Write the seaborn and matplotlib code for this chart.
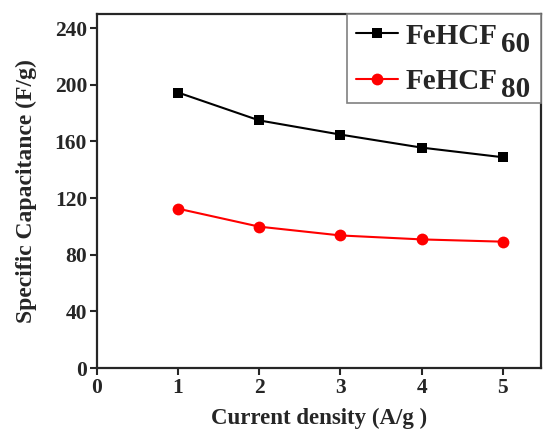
import matplotlib
matplotlib.use('Agg')
import matplotlib.pyplot as plt
import pandas as pd
import seaborn as sns

current = [1, 2, 3, 4, 5]
fehcf60 = [194.5, 174.8, 164.8, 155.6, 148.8]
fehcf80 = [112.5, 99.8, 93.6, 90.8, 89.2]
series = ['FeHCF 60', 'FeHCF 80']
x_ticks = [0, 1, 2, 3, 4, 5]
y_ticks = [0, 40, 80, 120, 160, 200, 240]

df = pd.DataFrame({
    'current': current * 2,
    'cap': fehcf60 + fehcf80,
    'sample': [series[0]] * 5 + [series[1]] * 5,
})

sns.set_style('ticks')
plt.rcParams['font.family'] = ['Liberation Serif', 'DejaVu Serif']
plt.rcParams['font.weight'] = 'bold'
plt.rcParams['axes.labelweight'] = 'bold'

fig = plt.figure(figsize=(5.44, 4.34), dpi=100)
ax = fig.add_axes([0.178, 0.152, 0.8165, 0.816])

sns.lineplot(data=df, x='current', y='cap', hue='sample', style='sample',
             palette={series[0]: 'black', series[1]: 'red'},
             markers={series[0]: 's', series[1]: 'o'},
             dashes=False, markersize=7, linewidth=1.5,
             ax=ax, legend=False)
for l in ax.lines:
    l.set_markeredgewidth(0)
ax.lines[0].set_markersize(7.5)
ax.lines[1].set_markersize(8.5)

ax.set_xlim(0, 5.47)
ax.set_ylim(0, 250)
ax.set_xticks(x_ticks)
ax.set_yticks(y_ticks)
ax.tick_params(labelsize=15.5, width=1.5, length=5, direction='out', pad=2)
for s in ax.spines.values():
    s.set_linewidth(1.6)
    s.set_visible(True)
ax.set_xlabel('Current density (A/g )', fontsize=16.5, labelpad=7)
ax.set_ylabel('Specific Capacitance (F/g)', fontsize=17, labelpad=13)

handles = ax.lines[:2]
leg = ax.legend(handles, ['FeHCF', 'FeHCF'], loc='upper right',
                bbox_to_anchor=(0.563, 0.6, 0.437, 0.4), mode='expand',
                borderaxespad=0, fancybox=False, edgecolor='#808080',
                framealpha=1, fontsize=21, handlelength=1.45,
                handletextpad=0.25, labelspacing=0.62, borderpad=0.3)
leg.get_frame().set_linewidth(1.2)
for t, num in zip(leg.get_texts(), ['60', '80']):
    ax.annotate(num, xy=(1, 0), xycoords=t, xytext=(3, -6),
                textcoords='offset points', ha='left', va='bottom',
                fontsize=21, fontweight='bold', zorder=10)

fig.savefig('out.png', dpi=100)
